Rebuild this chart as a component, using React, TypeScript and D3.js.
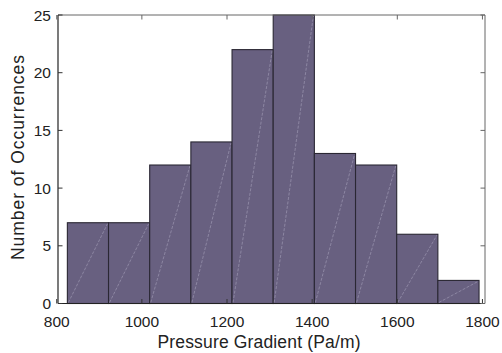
import React from 'react';
import * as d3 from 'd3';

// histogram bins (Pa/m) and counts
const binStart = 825;
const binWidth = 96.7;
const counts = [7, 7, 12, 14, 22, 25, 13, 12, 6, 2];
const xTicks = [800, 1000, 1200, 1400, 1600, 1800];
const yTicks = [0, 5, 10, 15, 20, 25];

const W = 502;
const H = 353;
const margin = { left: 58, right: 17, top: 15, bottom: 49.5 };

const App = () => {
  const x = d3.scaleLinear().domain([803, 1806]).range([margin.left, W - margin.right]);
  const y = d3.scaleLinear().domain([0, 25]).range([H - margin.bottom, margin.top]);

  const bins = counts.map((c, i) => ({
    x0: binStart + i * binWidth,
    x1: binStart + (i + 1) * binWidth,
    count: c,
  }));

  const [x0, x1] = x.range();
  const [yb, yt] = y.range();
  const font = '"Liberation Sans", Arial, sans-serif';
  const tickLen = 4.5;

  return (
    <svg width={W} height={H} style={{ position: 'absolute', left: 0, top: 0 }} fontFamily={font}>
      <rect width={W} height={H} fill="#fff" />

      {bins.map((b, i) => (
        <g key={i}>
          <rect
            x={x(b.x0)}
            y={y(b.count)}
            width={x(b.x1) - x(b.x0)}
            height={y(0) - y(b.count)}
            fill="#686080"
            stroke="#2a2733"
            strokeWidth={1.1}
          />
          {/* faint render seams, bottom-left to top-right */}
          <line
            x1={x(b.x0) + 1}
            y1={y(0) - 1}
            x2={x(b.x1) - 1}
            y2={y(b.count) + 1}
            stroke="#a49fb8"
            strokeWidth={0.6}
            strokeDasharray="3 1.5"
          />
        </g>
      ))}

      {/* frame */}
      <line x1={x0} y1={yt} x2={x1} y2={yt} stroke="#666" strokeWidth={1} />
      <line x1={x1} y1={yt} x2={x1} y2={yb} stroke="#666" strokeWidth={1} />
      <line x1={x0} y1={yb} x2={x1} y2={yb} stroke="#222" strokeWidth={1.2} />
      <line x1={x0} y1={yt} x2={x0} y2={yb} stroke="#222" strokeWidth={1.2} />

      {xTicks.map((t) => (
        <g key={t}>
          <line x1={x(t)} x2={x(t)} y1={yb} y2={yb - tickLen} stroke="#333" />
          <line x1={x(t)} x2={x(t)} y1={yt} y2={yt + tickLen} stroke="#666" />
          <text x={x(t)} y={327} textAnchor="middle" fontSize={15.5} fill="#222">
            {t}
          </text>
        </g>
      ))}

      {yTicks.map((t) => (
        <g key={t}>
          <line x1={x0} x2={x0 + tickLen} y1={y(t)} y2={y(t)} stroke="#333" />
          <line x1={x1} x2={x1 - tickLen} y1={y(t)} y2={y(t)} stroke="#666" />
          <text x={51} y={y(t) + 5.5} textAnchor="end" fontSize={15.5} fill="#222">
            {t}
          </text>
        </g>
      ))}

      <text
        x={259}
        y={348}
        textAnchor="middle"
        fontSize={17.5}
        fill="#222"
        textLength={203}
        lengthAdjust="spacing"
      >
        Pressure Gradient (Pa/m)
      </text>
      <text
        transform={`translate(24, 157.5) rotate(-90)`}
        textAnchor="middle"
        fontSize={17.5}
        fill="#222"
        textLength={205}
        lengthAdjust="spacing"
      >
        Number of Occurrences
      </text>
    </svg>
  );
};

export default App;
